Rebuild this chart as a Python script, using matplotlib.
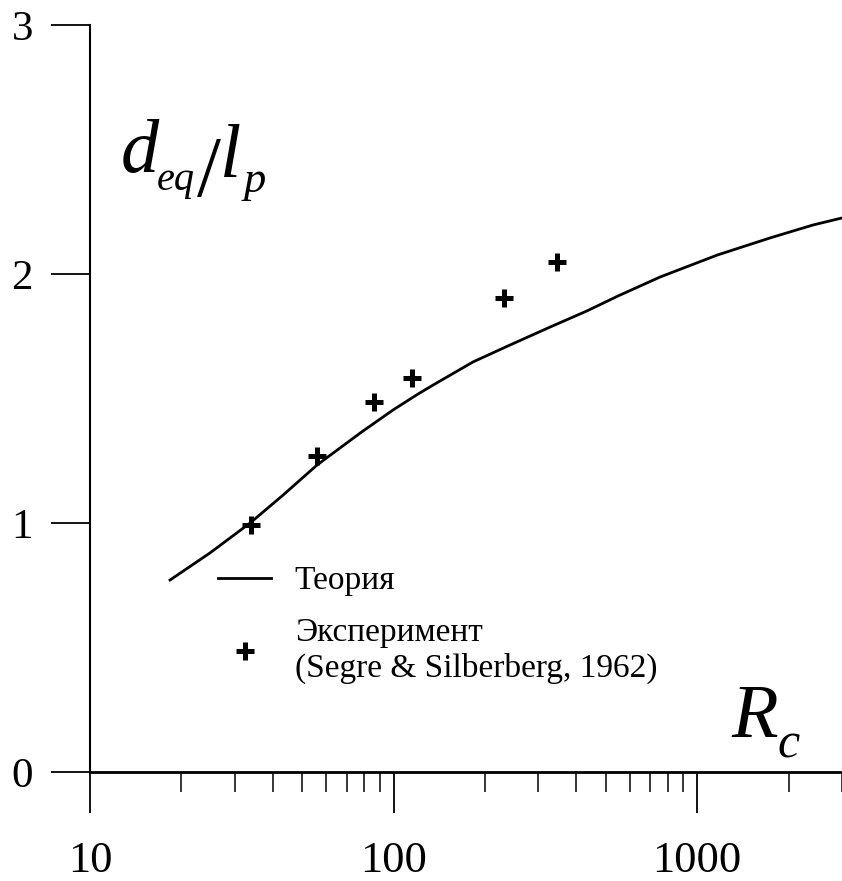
"""
Equilibrium position d_eq/l_p versus channel Reynolds number R_c: theory and experiment.
"""
import matplotlib
matplotlib.use('Agg')
import matplotlib.pyplot as plt

matplotlib.rcParams.update({'font.family': ['Liberation Serif', 'DejaVu Serif']})

W, H = 842, 881

# theory curve
rc_theory = [18.35, 24.86, 33.68, 43.24, 55.98, 77.55, 99.6, 120.4, 134.9, 182.8,
             242.0, 327.9, 434.0, 549.3, 755.2, 1164, 1740, 2411, 3000]
d_theory = [0.771, 0.880, 1.000, 1.112, 1.233, 1.361, 1.454, 1.518, 1.554, 1.647,
            1.715, 1.787, 1.852, 1.912, 1.988, 2.076, 2.145, 2.197, 2.225]

# experiment (Segre & Silberberg, 1962)
rc_exp = [33.9, 56.0, 86.3, 115, 231, 346]
d_exp = [0.992, 1.269, 1.486, 1.582, 1.904, 2.048]

fig = plt.figure(figsize=(W / 100, H / 100), dpi=100)
ax = fig.add_axes([90 / W, 1 - 772 / H, 752 / W, 747 / H])

ax.plot(rc_theory, d_theory, 'k-', lw=2.0, label='Теория')
ax.plot(rc_exp, d_exp, 'k+', ms=13, mew=3.6, ls='none',
        label='Эксперимент\n(Segre & Silberberg, 1962)')

ax.set_xscale('log')
ax.set_xlim(10, 3000)
ax.set_ylim(0, 3)
ax.set_xticks([10, 100, 1000])
ax.set_xticklabels(['10', '100', '1000'])
ax.set_yticks([0, 1, 2, 3])
ax.set_yticklabels(['0', '1', '2', '3'])

for s in ['top', 'right']:
    ax.spines[s].set_visible(False)
ax.spines['left'].set_linewidth(1.5)
ax.spines['bottom'].set_linewidth(2.0)

ax.tick_params(axis='y', which='major', direction='out', length=28, width=1.3,
               pad=13, labelsize=31)
ax.tick_params(axis='x', which='major', direction='out', length=29.5, width=1.3,
               pad=20, labelsize=32)
ax.tick_params(axis='x', which='minor', direction='out', length=14.5, width=1.1)


def label(x, y, s, size, style='italic'):
    # x, y in pixels from the top-left corner, y is the baseline
    fig.text(x / W, 1 - y / H, s, fontsize=size, fontstyle=style,
             ha='left', va='baseline')


# y axis label d_eq/l_p
label(121, 172, 'd', 55)
label(157, 190, 'eq', 29)
label(197, 196, '/', 62, 'normal')
label(220, 177, 'l', 55)
label(244, 192, 'p', 32)

# x axis label R_c
label(731, 737, 'R', 55)
label(777, 757, 'c', 36)

ax.legend(loc='upper left', bbox_to_anchor=(218 / W, 1 - 566 / H),
          bbox_transform=fig.transFigure, frameon=False, fontsize=24,
          handlelength=1.6, handletextpad=0.7, borderpad=0, borderaxespad=0,
          labelspacing=0.62)

fig.savefig('out.png', dpi=100)
